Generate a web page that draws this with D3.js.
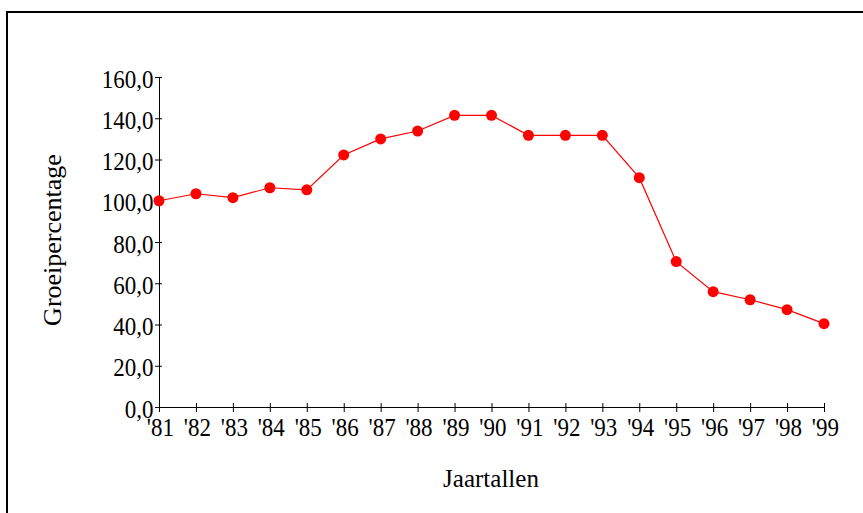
<!DOCTYPE html>
<html>
<head>
<meta charset="utf-8">
<script src="https://cdn.jsdelivr.net/npm/d3@7"></script>
<style>
  body { margin: 0; background: #fff; }
  svg { display: block; }
  text { font-family: "Liberation Serif", "Times New Roman", serif; fill: #000; }
</style>
</head>
<body>
<svg id="chart" width="863" height="513"></svg>
<script>
const years = ["'81","'82","'83","'84","'85","'86","'87","'88","'89","'90","'91","'92","'93","'94","'95","'96","'97","'98","'99"];
const values = [100.0, 103.4, 101.5, 106.3, 105.3, 122.2, 130.0, 133.8, 141.4, 141.4, 131.7, 131.7, 131.7, 111.2, 70.5, 55.9, 52.0, 47.2, 40.4];
const yTicks = [0, 20, 40, 60, 80, 100, 120, 140, 160];
const xTitle = "Jaartallen";
const yTitle = "Groeipercentage";

const svg = d3.select("#chart");

svg.append("rect")
  .attr("x", 7).attr("y", 12)
  .attr("width", 1000).attr("height", 1000)
  .attr("fill", "none").attr("stroke", "#000").attr("stroke-width", 2);

const x = d3.scalePoint().domain(years).range([159, 824]);
const y = d3.scaleLinear().domain([0, 160]).range([407, 77]);

const fmt = v => d3.format(".1f")(v).replace(".", ",");

const gy = svg.append("g").attr("transform", "translate(159,0)")
  .call(d3.axisLeft(y).tickValues(yTicks).tickFormat(fmt).tickSizeInner(4).tickSizeOuter(0).tickPadding(2));
gy.select(".domain").attr("stroke", "#000");
gy.selectAll(".tick line").attr("x1", 3).attr("stroke", "#000");
gy.selectAll(".tick text").attr("font-size", 25).attr("dy", "0.4em")
  .attr("transform", "scale(0.92,1)")
  .style("font-family", '"Liberation Serif", serif');

const gx = svg.append("g").attr("transform", "translate(0,407)")
  .call(d3.axisBottom(x).tickSizeInner(5).tickSizeOuter(0).tickPadding(6));
gx.select(".domain").attr("stroke", "#000");
gx.selectAll(".tick line").attr("y1", -4).attr("stroke", "#000");
gx.selectAll(".tick text").attr("font-size", 25).attr("dy", "0.71em").attr("dx", 1)
  .attr("transform", "scale(0.92,1)")
  .style("font-family", '"Liberation Serif", serif');

const line = d3.line().x((d, i) => x(years[i])).y(d => y(d));
svg.append("path").datum(values)
  .attr("d", line).attr("fill", "none").attr("stroke", "#ff0000").attr("stroke-width", 1.2);

svg.selectAll("circle.pt").data(values).join("circle")
  .attr("class", "pt")
  .attr("cx", (d, i) => x(years[i])).attr("cy", d => y(d))
  .attr("r", 5.5).attr("fill", "#ff0000");

svg.append("text")
  .attr("x", 491).attr("y", 487)
  .attr("text-anchor", "middle").attr("font-size", 25)
  .text(xTitle);

svg.append("text")
  .attr("transform", "translate(61,240) rotate(-90)")
  .attr("text-anchor", "middle").attr("font-size", 26)
  .text(yTitle);
</script>
</body>
</html>
